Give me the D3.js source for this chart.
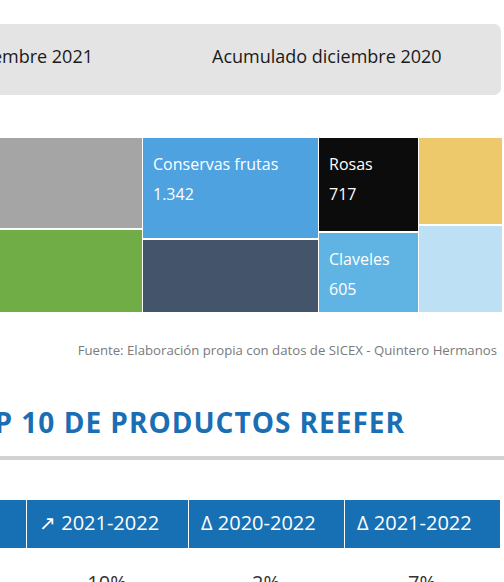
<!DOCTYPE html>
<html>
<head>
<meta charset="utf-8">
<script src="https://cdn.jsdelivr.net/npm/d3@7"></script>
<style>
  body { margin: 0; background: #fff; }
  svg { display: block; font-family: "Open Sans", sans-serif; }
</style>
</head>
<body>
<svg id="chart" width="504" height="582"></svg>
<script>
const tabLabels = ["Acumulado diciembre 2021", "Acumulado diciembre 2020"];

// treemap leaves, grouped into columns (left to right), each column split top to bottom
const products = ["Producto A", "Producto B", "Conservas frutas", "Producto C", "Rosas", "Claveles", "Producto D", "Producto E"];
const values = [1530, 1395, 1342, 971, 717, 605, 553, 551];
const columns = [0, 0, 1, 1, 2, 2, 3, 3];
const labeledProducts = ["Conservas frutas", "Rosas", "Claveles"];
const palette = ["#a5a5a5", "#70ad47", "#4ea2e0", "#44546a", "#0c0c0c", "#5fb4e4", "#eec96b", "#bde0f4"];

const sourceText = "Fuente: Elaboración propia con datos de SICEX - Quintero Hermanos";
const heading = "TOP 10 DE PRODUCTOS REEFER";

const tableHeaders = ["Producto", "↗ 2021-2022", "Δ 2020-2022", "Δ 2021-2022"];
const firstRow = ["", "10%", "2%", "7%"];

const esLocale = d3.formatLocale({ decimal: ",", thousands: ".", grouping: [3], currency: ["$", ""] });
const fmt = esLocale.format(",d");

const svg = d3.select("#chart");

// tab bar
svg.append("rect")
  .attr("x", -20).attr("y", 24)
  .attr("width", 521).attr("height", 71)
  .attr("rx", 7)
  .attr("fill", "#e4e4e4");

svg.selectAll(".tab")
  .data(tabLabels)
  .join("text")
  .attr("class", "tab")
  .attr("x", (d, i) => (i === 0 ? 93 : 212))
  .attr("y", 63)
  .attr("text-anchor", (d, i) => (i === 0 ? "end" : "start"))
  .attr("font-size", 18)
  .attr("fill", "#1a1a1a")
  .text((d) => d);

// treemap
const leaves = products.map((name, i) => ({ name: name, value: values[i], col: columns[i] }));
const rootData = {
  children: d3.groups(leaves, (d) => d.col).map(([col, items]) => ({ col: col, children: items })),
};

const root = d3.hierarchy(rootData).sum((d) => (d.children ? 0 : d.value));

d3.treemap()
  .tile(d3.treemapSliceDice)
  .size([581, 174])
  .paddingInner((node) => (node.depth === 0 ? 1 : 2))
  .round(true)(root);

const color = d3.scaleOrdinal().domain(products).range(palette);

const tm = svg.append("g").attr("transform", "translate(-79,138)");

const cell = tm.selectAll("g")
  .data(root.leaves())
  .join("g")
  .attr("transform", (d) => `translate(${d.x0},${d.y0})`);

cell.append("rect")
  .attr("width", (d) => d.x1 - d.x0)
  .attr("height", (d) => d.y1 - d.y0)
  .attr("fill", (d) => color(d.data.name));

const labeled = cell.filter((d) => labeledProducts.includes(d.data.name));

labeled.append("text")
  .attr("x", 10).attr("y", 32)
  .attr("font-size", 16)
  .attr("fill", "#fff")
  .text((d) => d.data.name);

labeled.append("text")
  .attr("x", 10).attr("y", 62)
  .attr("font-size", 16)
  .attr("fill", "#fff")
  .text((d) => fmt(d.data.value));

// source
svg.append("text")
  .attr("x", 497).attr("y", 355)
  .attr("text-anchor", "end")
  .attr("font-size", 13.2)
  .attr("fill", "#7a7a7a")
  .text(sourceText);

// heading
svg.append("text")
  .attr("x", 405).attr("y", 433)
  .attr("text-anchor", "end")
  .attr("font-size", 28)
  .attr("font-weight", 700)
  .attr("letter-spacing", 1)
  .attr("fill", "#1a6eb4")
  .text(heading);

svg.append("rect")
  .attr("x", 0).attr("y", 456)
  .attr("width", 504).attr("height", 4)
  .attr("fill", "#d4d1d1");

// table header
const colEdges = [-140, 26, 188, 344, 500];

svg.append("rect")
  .attr("x", colEdges[0]).attr("y", 500)
  .attr("width", colEdges[4] - colEdges[0]).attr("height", 48)
  .attr("fill", "#1770b4");

svg.selectAll(".sep")
  .data(colEdges.slice(1, 4))
  .join("line")
  .attr("class", "sep")
  .attr("x1", (d) => d + 0.5).attr("x2", (d) => d + 0.5)
  .attr("y1", 500).attr("y2", 548)
  .attr("stroke", "#fff")
  .attr("stroke-width", 1);

svg.selectAll(".th")
  .data(tableHeaders)
  .join("text")
  .attr("class", "th")
  .attr("x", (d, i) => colEdges[i] + 13)
  .attr("y", 530)
  .attr("font-size", 20)
  .attr("fill", "#fff")
  .text((d) => d);

svg.selectAll(".td")
  .data(firstRow)
  .join("text")
  .attr("class", "td")
  .attr("x", (d, i) => (colEdges[i] + colEdges[i + 1]) / 2)
  .attr("y", 590)
  .attr("text-anchor", "middle")
  .attr("font-size", 20)
  .attr("fill", "#333")
  .text((d) => d);
</script>
</body>
</html>
